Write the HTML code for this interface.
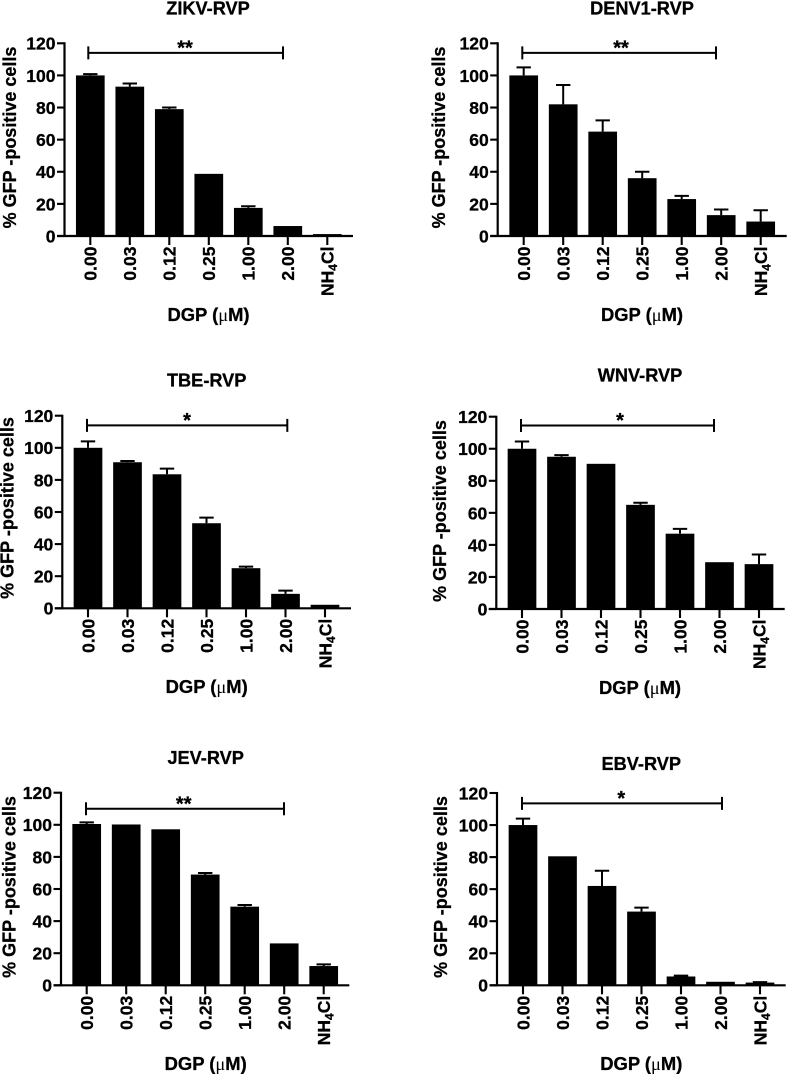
<!DOCTYPE html>
<html lang="en">
<head>
<meta charset="utf-8">
<title>GFP-positive cells by DGP concentration</title>
<style>
html,body{margin:0;padding:0;background:#fff;width:787px;height:1074px;overflow:hidden}
svg{display:block;filter:blur(0.35px)}
text{font-family:"Liberation Sans",sans-serif;font-weight:700;fill:#000;stroke:#000;stroke-width:0.3px}
</style>
</head>
<body>
<svg id="figure" xmlns="http://www.w3.org/2000/svg" width="787" height="1074" viewBox="0 0 787 1074"></svg>
<script>
const categories = ['0.00', '0.03', '0.12', '0.25', '1.00', '2.00', 'NH4Cl'];
const yTicks = [0, 20, 40, 60, 80, 100, 120];
const panelTitles = ['ZIKV-RVP', 'DENV1-RVP', 'TBE-RVP', 'WNV-RVP', 'JEV-RVP', 'EBV-RVP'];
const significance = ['**', '**', '*', '*', '**', '*'];

const zikvValues = [100, 93, 79, 38.7, 17.5, 6.2, 1.2];
const zikvUpper = [100.8, 95, 80, 38.7, 18.5, 6.2, 1.2];
const denvValues = [100, 82, 65, 36, 23, 13, 9];
const denvUpper = [105, 94, 72, 40, 25, 16.5, 16];
const tbeValues = [100, 91, 83.5, 53, 25, 9, 2.2];
const tbeUpper = [104, 91.8, 87, 56.5, 26, 11, 2.2];
const wnvValues = [100, 95, 90.6, 65, 47, 29.2, 28];
const wnvUpper = [104.5, 96, 90.6, 66.3, 50, 29.2, 34];
const jevValues = [100.5, 100.2, 97.2, 69, 49, 26.1, 12];
const jevUpper = [101.5, 100.2, 97.2, 70, 50, 26.1, 13];
const ebvValues = [100, 80.5, 62, 46, 5.5, 2.2, 1.7];
const ebvUpper = [104, 80.5, 71.5, 48.5, 6, 2.2, 2];

const seriesValues = [zikvValues, denvValues, tbeValues, wnvValues, jevValues, ebvValues];
const seriesUpper = [zikvUpper, denvUpper, tbeUpper, wnvUpper, jevUpper, ebvUpper];
const bracketLevels = [114, 114, 114, 114.5, 110, 113.5];

/* Layout of each panel on the page, kept apart from the data */
const layouts = [
  {axisX: 64.5, y0: 236, y120: 43.3, first: 90.3, xEnd: 353, brL: 88.3, brR: 283, starX: 185, titleX: 208, titleY: 14.5, yTitleX: 16, yTitleC: 137.5, xTitleX: 208.5, xTitleY: 321},
  {axisX: 497.7, y0: 236, y120: 43.3, first: 523.7, xEnd: 786.7, brL: 522.3, brR: 716, starX: 621, titleX: 642, titleY: 14.5, yTitleX: 445, yTitleC: 137.5, xTitleX: 642, xTitleY: 321},
  {axisX: 62.3, y0: 608.3, y120: 415.7, first: 88, xEnd: 351, brL: 87, brR: 287.3, starX: 187, titleX: 206.7, titleY: 386.5, yTitleX: 13.5, yTitleC: 508, xTitleX: 206.7, xTitleY: 693},
  {axisX: 496.3, y0: 609, y120: 416.7, first: 522, xEnd: 784.7, brL: 521, brR: 714, starX: 620, titleX: 640, titleY: 381.5, yTitleX: 446, yTitleC: 511, xTitleX: 640, xTitleY: 694},
  {axisX: 61, y0: 985.3, y120: 792.7, first: 86.7, xEnd: 349.3, brL: 86, brR: 284, starX: 183.7, titleX: 205.7, titleY: 764, yTitleX: 15.5, yTitleC: 887, xTitleX: 205.7, xTitleY: 1070},
  {axisX: 497, y0: 985.3, y120: 793, first: 523, xEnd: 785.7, brL: 522, brR: 722, starX: 621.3, titleX: 641.3, titleY: 770, yTitleX: 447, yTitleC: 887, xTitleX: 641.3, xTitleY: 1070}
];

const SPACING = 39.5;
const BAR_WIDTH = 28.7;
const SVG_NS = 'http://www.w3.org/2000/svg';
const figure = document.getElementById('figure');

function node(parent, tag, attrs) {
  const el = document.createElementNS(SVG_NS, tag);
  for (const key in attrs) el.setAttribute(key, attrs[key]);
  parent.appendChild(el);
  return el;
}

function drawPanel(index) {
  const L = layouts[index];
  const values = seriesValues[index];
  const upper = seriesUpper[index];
  const yScale = v => L.y0 - (v / 120) * (L.y0 - L.y120);
  const xScale = i => L.first + i * SPACING;
  const slug = panelTitles[index].toLowerCase();

  const panel = node(figure, 'g', {});
  
  

  const title = node(panel, 'text', {x: L.titleX, y: L.titleY, 'text-anchor': 'middle', 'font-size': 18.2});
  title.textContent = panelTitles[index];
  
  

  values.forEach((value, i) => {
    const bar = node(panel, 'rect', {x: xScale(i) - BAR_WIDTH / 2, y: yScale(value), width: BAR_WIDTH, height: L.y0 - yScale(value), fill: '#000'});
    
    

    if (upper[i] > value) {
      const err = node(panel, 'path', {d: 'M' + xScale(i) + ' ' + yScale(value) + 'V' + yScale(upper[i]) + 'M' + (xScale(i) - 7.2) + ' ' + yScale(upper[i]) + 'H' + (xScale(i) + 7.2), stroke: '#000', 'stroke-width': 2, fill: 'none'});
      
      
    }
  });

  const yAxis = node(panel, 'line', {x1: L.axisX, x2: L.axisX, y1: yScale(120) - 1, y2: L.y0 + 1, stroke: '#000', 'stroke-width': 2.2});
  
  

  const xAxis = node(panel, 'line', {x1: L.axisX - 7.5, x2: L.xEnd, y1: L.y0, y2: L.y0, stroke: '#000', 'stroke-width': 2.2});
  
  

  yTicks.forEach(tick => {
    const mark = node(panel, 'line', {x1: L.axisX - 7.5, x2: L.axisX, y1: yScale(tick), y2: yScale(tick), stroke: '#000', 'stroke-width': 2.1});
    
    

    const label = node(panel, 'text', {x: L.axisX - 9, y: yScale(tick) + 6.4, 'text-anchor': 'end', 'font-size': 17.5});
    label.textContent = tick;
    
    
  });

  categories.forEach((category, i) => {
    const mark = node(panel, 'line', {x1: xScale(i), x2: xScale(i), y1: L.y0, y2: L.y0 + 9, stroke: '#000', 'stroke-width': 2.1});
    
    

    const cx = xScale(i) + 6.3;
    const cy = L.y0 + 10.5;
    const label = node(panel, 'text', {x: cx, y: cy, 'text-anchor': 'end', 'font-size': 17.5, transform: 'rotate(-90 ' + cx + ' ' + cy + ')'});
    const match = category.match(/^NH4(.*)$/);
    if (match) {
      label.appendChild(document.createTextNode('NH'));
      const sub = node(label, 'tspan', {'font-size': 12, dy: 3.5});
      sub.textContent = '4';
      const rest = node(label, 'tspan', {dy: -3.5});
      rest.textContent = match[1];
    } else {
      label.textContent = category;
    }
    
    
  });

  const by = yScale(bracketLevels[index]);
  const bracket = node(panel, 'path', {d: 'M' + L.brL + ' ' + (by - 6.5) + 'V' + (by + 6.5) + 'M' + L.brL + ' ' + by + 'H' + L.brR + 'M' + L.brR + ' ' + (by - 6.5) + 'V' + (by + 6.5), stroke: '#000', 'stroke-width': 2, fill: 'none'});
  
  

  const star = node(panel, 'text', {x: L.starX, y: by + 1.5, 'text-anchor': 'middle', 'font-size': 20});
  star.textContent = significance[index];
  
  

  const yTitle = node(panel, 'text', {x: L.yTitleX, y: L.yTitleC, 'text-anchor': 'middle', 'font-size': 18, transform: 'rotate(-90 ' + L.yTitleX + ' ' + L.yTitleC + ')'});
  yTitle.textContent = '% GFP -positive cells';
  
  

  const xTitle = node(panel, 'text', {x: L.xTitleX, y: L.xTitleY, 'text-anchor': 'middle', 'font-size': 18.4});
  xTitle.appendChild(document.createTextNode('DGP ('));
  const mu = node(xTitle, 'tspan', {style: 'font-family:"Liberation Serif",serif;font-weight:400;stroke-width:0'});
  mu.textContent = 'μ';
  xTitle.appendChild(document.createTextNode('M)'));
  
  
}

layouts.forEach((_, index) => drawPanel(index));
</script>
</body>
</html>
